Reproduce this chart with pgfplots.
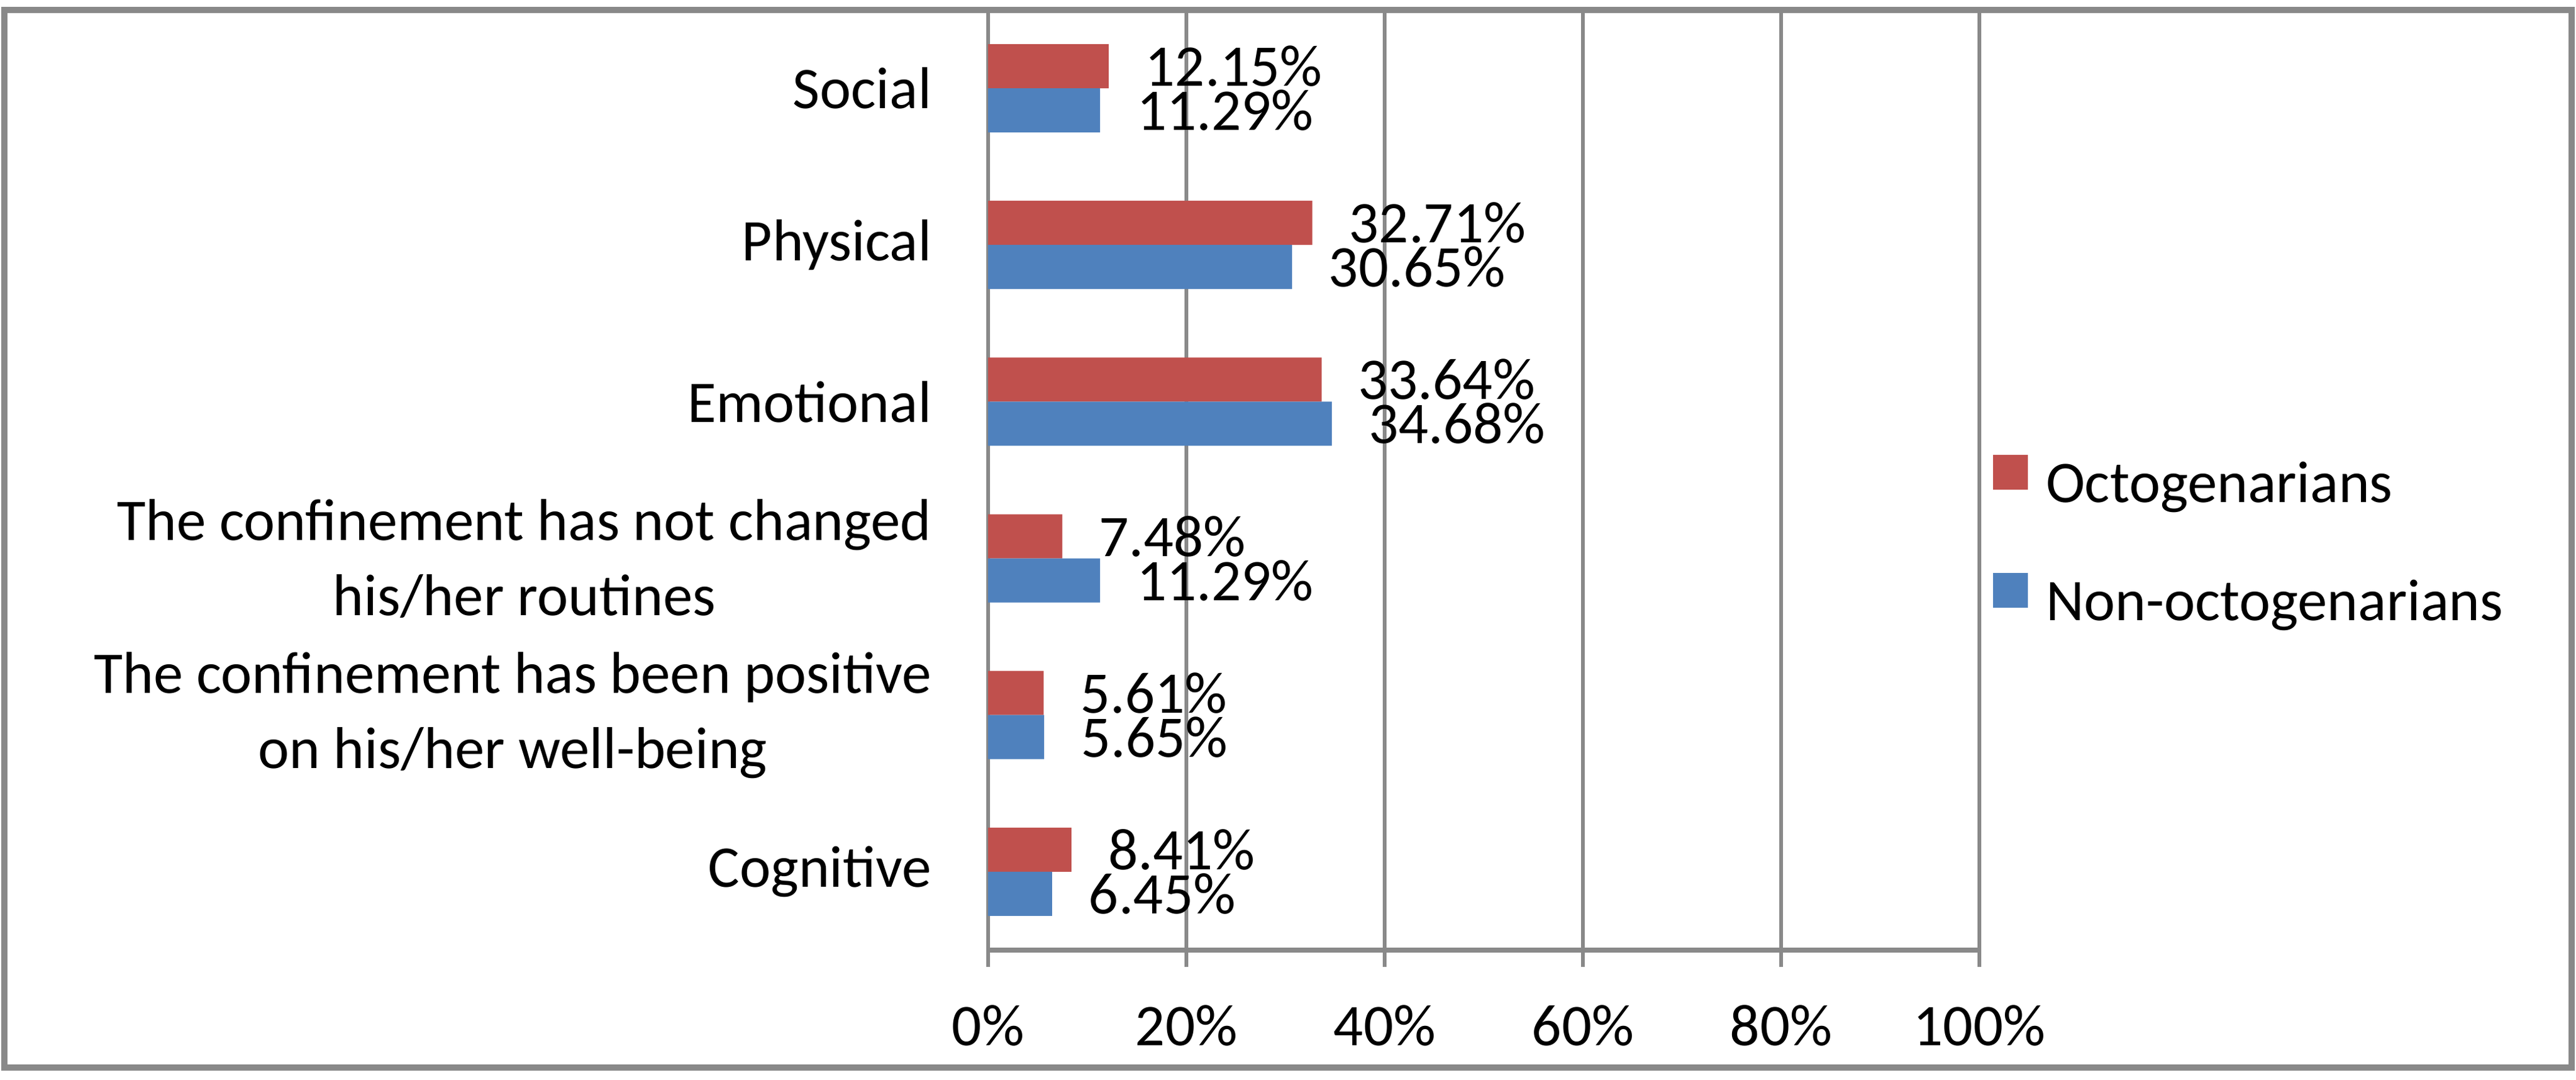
\documentclass[border=0pt]{standalone}
\usepackage{fontspec}
\setmainfont{Carlito}
\usepackage{pgfplots}
\pgfplotsset{compat=1.18}
\usetikzlibrary{calc}

\definecolor{octo}{HTML}{C0504D}
\definecolor{nonocto}{HTML}{4F81BD}
\definecolor{gridgray}{HTML}{898989}

\begin{document}
\begin{tikzpicture}
\begin{axis}[
  name=ax,
  scale only axis,
  width=159.5pt, height=151.3pt,
  xbar, bar width=7.1pt,
  xmin=0, xmax=100,
  ymin=-0.5, ymax=5.5,
  font=\fontsize{9.5}{12.1}\selectfont,
  axis x line*=bottom, axis y line*=left,
  x axis line style={gridgray, line width=0.8pt},
  y axis line style={gridgray, line width=0.6pt},
  xtick={0,20,40,60,80,100},
  xticklabels={0\%,20\%,40\%,60\%,80\%,100\%},
  xmajorgrids,
  major grid style={gridgray, line width=0.6pt},
  major tick style={gridgray, line width=0.6pt},
  tick align=outside,
  major tick length=2.7pt,
  xticklabel style={inner sep=0pt, yshift=-6pt},
  ytick={0,1,2,3,4,5},
  yticklabels={Cognitive,
    {The confinement has been positive\\on his/her well-being},
    {The confinement has not changed\\his/her routines},
    Emotional, Physical, Social},
  yticklabel style={align=center, inner sep=0pt, xshift=-6.2pt},
  y tick style={draw=none},
  minor ytick={-0.5,0.5,1.5,2.5,3.5,4.5,5.5},
  minor tick length=3.3pt,
  minor y tick style={gridgray, line width=0.6pt},
  nodes near coords,
  point meta=explicit symbolic,
  nodes near coords style={inner sep=0pt, anchor=west, xshift=5.7pt, text=black,
    text height=6.4pt, text depth=0pt},
  legend style={draw=none, fill=none, inner sep=0pt, outer sep=0pt,
    at={(rel axis cs:1.0138,0.432)}, anchor=west,
    nodes={inner sep=0pt, text height=6pt, text depth=2pt},
    row sep=9.4pt,
    /tikz/every odd column/.append style={column sep=2.9pt}},
  legend cell align=left,
  legend image code/.code={\fill[#1] (0pt,0pt) rectangle (5.6pt,5.6pt);},
  clip=false,
]
\addplot[fill=octo, draw=none, bar shift=3.55pt] coordinates {
  (8.41,0) [8.41\%]
  (5.61,1) [5.61\%]
  (7.48,2) [7.48\%]
  (33.64,3) [33.64\%]
  (32.71,4) [32.71\%]
  (12.15,5) [12.15\%]
};
\addplot[fill=nonocto, draw=none, bar shift=-3.55pt] coordinates {
  (6.45,0) [6.45\%]
  (5.65,1) [5.65\%]
  (11.29,2) [11.29\%]
  (34.68,3) [34.68\%]
  (30.65,4) [30.65\%]
  (11.29,5) [11.29\%]
};
\legend{Octogenarians, Non-octogenarians}
\end{axis}
\draw[gridgray, line width=1pt] ($(ax.south west)+(-158.3pt,-18.9pt)$) rectangle ($(ax.north west)+(254.8pt,0pt)$);
\path ($(ax.south west)+(-159pt,-20.9pt)$) rectangle ($(ax.north west)+(255.5pt,1.6pt)$);
\end{tikzpicture}
\end{document}
